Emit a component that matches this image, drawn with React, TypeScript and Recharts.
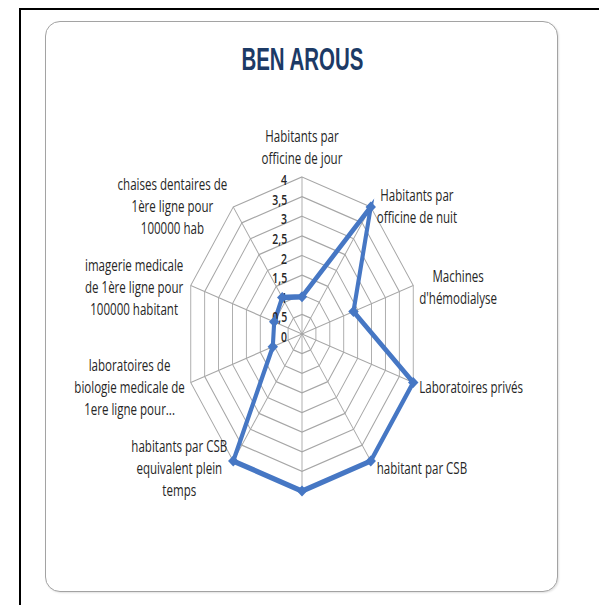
import { RadarChart, Radar, PolarGrid, PolarAngleAxis, PolarRadiusAxis } from "recharts";

const title = "BEN AROUS";

const categories = [
  "Habitants par\nofficine de jour",
  "Habitants par\nofficine de nuit",
  "Machines\nd'hémodialyse",
  "Laboratoires privés",
  "habitant par CSB",
  "",
  "habitants par CSB\nequivalent plein\ntemps",
  "laboratoires de\nbiologie medicale de\n1ere ligne pour...",
  "imagerie medicale\nde 1ère  ligne pour\n100000 habitant",
  "chaises dentaires de\n1ère ligne pour\n100000 hab",
];

const values = [0.95, 4, 1.85, 4, 4, 4, 4, 1.05, 1, 1.15];

const radiusTicks = [0, 0.5, 1, 1.5, 2, 2.5, 3, 3.5, 4];

const data = categories.map((name, i) => ({ name, value: values[i] }));

// chart geometry (svg units, before the horizontal squash)
const W = 760;
const H = 520;
const CX = 380;
const CY = 260;
const R = 157;
const SQUASH = 0.745;

const BLUE = "#4677c4";
const LABEL_FONT = '"Open Sans", sans-serif';
const LABEL_SIZE = 15.5;
const LINE_H = 22;
const GAP = 8;

let ctx: CanvasRenderingContext2D | null = null;
function measure(t: string) {
  if (!ctx) ctx = document.createElement("canvas").getContext("2d");
  if (!ctx) return t.length * 7;
  ctx.font = `${LABEL_SIZE}px ${LABEL_FONT}`;
  return ctx.measureText(t).width;
}

function AngleTick(props: any) {
  const { payload } = props;
  const label: string = payload?.value ?? "";
  if (!label) return null;
  const lines = label.split("\n");
  const rad = (payload.coordinate * Math.PI) / 180;
  const cosA = Math.cos(rad);
  const sinA = Math.sin(rad);
  const vx = CX + R * cosA;
  const vy = CY - R * sinA;
  const bw = Math.max(...lines.map(measure));
  const bh = lines.length * LINE_H;

  let left: number;
  if (Math.abs(cosA) < 0.1) left = vx - bw / 2;
  else if (cosA > 0) left = vx + GAP;
  else left = vx - GAP - bw;

  let top: number;
  if (Math.abs(cosA) < 0.1) top = sinA > 0 ? vy - 8 - bh : vy + 8;
  else top = vy + 3 - 5 * sinA - bh / 2;

  return (
    <g>
      {lines.map((line, i) => (
        <text
          key={i}
          x={left + bw / 2}
          y={top + LINE_H * (i + 0.5)}
          textAnchor="middle"
          dominantBaseline="central"
          fontFamily={LABEL_FONT}
          fontSize={LABEL_SIZE}
          fill="#262626"
        >
          {line}
        </text>
      ))}
    </g>
  );
}

function RadiusTick(props: any) {
  const { x, y, payload } = props;
  return (
    <text
      x={x - 20}
      y={y + 3}
      textAnchor="end"
      dominantBaseline="central"
      fontFamily={LABEL_FONT}
      fontSize={14}
      fontWeight={600}
      fill="#262626"
    >
      {String(payload.value).replace(".", ",")}
    </text>
  );
}

function Diamond(props: any) {
  const { cx, cy } = props;
  if (cx == null || cy == null) return null;
  return (
    <path
      d={`M${cx},${cy - 5.5} L${cx + 7},${cy} L${cx},${cy + 5.5} L${cx - 7},${cy} Z`}
      fill={BLUE}
    />
  );
}

export default function App() {
  return (
    <div style={{ position: "relative", width: 599, height: 605, overflow: "hidden" }}>
      <style>{`html,body{margin:0;overflow:hidden;background:#fff}`}</style>
      <div
        style={{
          position: "absolute",
          left: 19,
          top: 8,
          width: 700,
          height: 700,
          border: "2px solid #000",
          boxSizing: "border-box",
        }}
      />
      <div
        style={{
          position: "absolute",
          left: 45,
          top: 21,
          width: 513,
          height: 571,
          border: "1.5px solid #a3a3a3",
          borderRadius: 15,
          boxSizing: "border-box",
          background: "#fff",
          boxShadow: "1px 1px 2px rgba(0,0,0,0.12)",
        }}
      />
      <div
        style={{
          position: "absolute",
          left: 0,
          top: 44,
          width: 604,
          textAlign: "center",
          lineHeight: "31px",
        }}
      >
        <span
          style={{
            display: "inline-block",
            transform: "scaleX(0.66)",
            fontFamily: '"Liberation Sans", Arial, sans-serif',
            fontWeight: 700,
            fontSize: 31,
            color: "#1c3a66",
          }}
        >
          {title}
        </span>
      </div>
      <div
        style={{
          position: "absolute",
          left: 302 - CX,
          top: 334 - CY,
          width: W,
          height: H,
          transform: `scaleX(${SQUASH})`,
          transformOrigin: `${CX}px 0`,
        }}
      >
        <RadarChart
          width={W}
          height={H}
          data={data}
          cx={CX}
          cy={CY}
          outerRadius={R}
          margin={{ top: 0, right: 0, bottom: 0, left: 0 }}
        >
          <PolarGrid gridType="polygon" stroke="#a6a6a6" strokeWidth={1.2} />
          <PolarAngleAxis dataKey="name" tick={AngleTick} tickLine={false} axisLine={false} />
          <PolarRadiusAxis
            angle={90}
            domain={[0, 4]}
            ticks={radiusTicks}
            tickCount={radiusTicks.length}
            tick={RadiusTick}
            axisLine={false}
            tickLine={false}
          />
          <Radar
            dataKey="value"
            stroke={BLUE}
            strokeWidth={5.5}
            fill="none"
            fillOpacity={0}
            dot={Diamond}
            isAnimationActive={false}
          />
        </RadarChart>
      </div>
    </div>
  );
}
